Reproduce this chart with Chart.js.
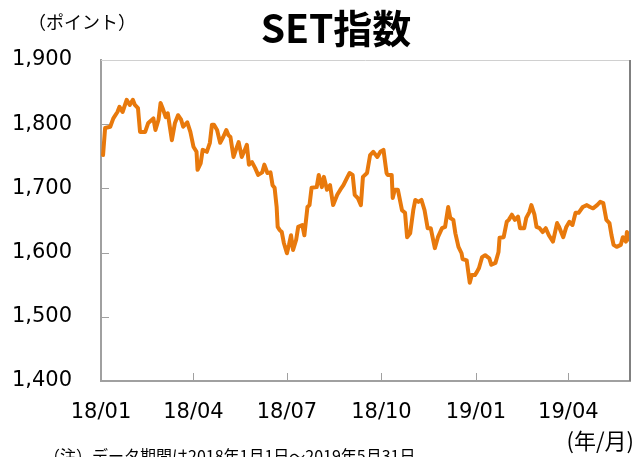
<!DOCTYPE html>
<html>
<head>
<meta charset="utf-8">
<script src="https://cdn.jsdelivr.net/npm/chart.js@4/dist/chart.umd.min.js"></script>
<style>
  html, body { margin: 0; padding: 0; background: #fff; }
  #wrap { width: 639px; height: 457px; position: relative; }
</style>
</head>
<body>
<div id="wrap"><canvas id="setChart" width="639" height="457"></canvas></div>
<script>
// SET指数（日足）、画像から読み取った概算値
const dates = [
  '2018-01-03','2018-01-05','2018-01-10','2018-01-13','2018-01-17','2018-01-19','2018-01-22','2018-01-26','2018-01-29',
  '2018-02-01','2018-02-03','2018-02-06','2018-02-08','2018-02-13','2018-02-16','2018-02-21','2018-02-23','2018-02-26','2018-02-28',
  '2018-03-02','2018-03-05','2018-03-07','2018-03-11','2018-03-14','2018-03-17','2018-03-20','2018-03-22','2018-03-26','2018-03-29',
  '2018-04-01','2018-04-04','2018-04-05','2018-04-08','2018-04-10','2018-04-14','2018-04-17','2018-04-19','2018-04-21','2018-04-24','2018-04-27','2018-04-30',
  '2018-05-03','2018-05-05','2018-05-07','2018-05-10','2018-05-13','2018-05-15','2018-05-18','2018-05-21','2018-05-23','2018-05-25','2018-05-28','2018-05-31',
  '2018-06-03','2018-06-07','2018-06-09','2018-06-12','2018-06-15','2018-06-17','2018-06-19','2018-06-21','2018-06-22','2018-06-24','2018-06-26','2018-06-28',
  '2018-07-01','2018-07-03','2018-07-05','2018-07-07','2018-07-10','2018-07-12','2018-07-16','2018-07-18','2018-07-21','2018-07-23','2018-07-25','2018-07-30',
  '2018-08-01','2018-08-04','2018-08-06','2018-08-09','2018-08-12','2018-08-15','2018-08-19','2018-08-22','2018-08-25','2018-08-29','2018-08-31',
  '2018-09-03','2018-09-05','2018-09-08','2018-09-11','2018-09-13','2018-09-17','2018-09-20','2018-09-23','2018-09-27','2018-09-30',
  '2018-10-03','2018-10-06','2018-10-07','2018-10-11','2018-10-12','2018-10-14','2018-10-17','2018-10-21','2018-10-24','2018-10-26','2018-10-29',
  '2018-11-01','2018-11-03','2018-11-06','2018-11-09','2018-11-12','2018-11-15','2018-11-18','2018-11-22','2018-11-25','2018-11-29',
  '2018-12-02','2018-12-05','2018-12-07','2018-12-10','2018-12-12','2018-12-15','2018-12-18','2018-12-19','2018-12-23','2018-12-26','2018-12-28','2018-12-31',
  '2019-01-02','2019-01-04','2019-01-07','2019-01-10','2019-01-14','2019-01-16','2019-01-20','2019-01-23','2019-01-24','2019-01-28','2019-01-31',
  '2019-02-02','2019-02-05','2019-02-08','2019-02-11','2019-02-13','2019-02-17','2019-02-19','2019-02-22','2019-02-24','2019-02-27',
  '2019-03-01','2019-03-04','2019-03-07','2019-03-10','2019-03-13','2019-03-17','2019-03-21','2019-03-23','2019-03-27','2019-03-30',
  '2019-04-02','2019-04-05','2019-04-08','2019-04-11','2019-04-15','2019-04-19','2019-04-22','2019-04-25','2019-04-29',
  '2019-05-02','2019-05-05','2019-05-08','2019-05-11','2019-05-13','2019-05-15','2019-05-18','2019-05-22','2019-05-24','2019-05-27','2019-05-28','2019-05-31'
];
const setValues = [
  1752,1794,1796,1809,1819,1827,1819,1838,1830,
  1838,1830,1825,1788,1788,1802,1809,1791,1807,1833,
  1825,1811,1817,1775,1802,1814,1807,1796,1803,1788,
  1765,1757,1729,1739,1760,1757,1771,1799,1799,1791,1771,1780,
  1791,1783,1780,1749,1763,1772,1749,1760,1768,1737,1741,1732,
  1721,1725,1737,1724,1725,1705,1701,1671,1640,1635,1632,1615,
  1599,1612,1627,1604,1620,1640,1643,1627,1671,1674,1701,1702,
  1721,1702,1718,1698,1705,1674,1690,1698,1705,1718,1724,
  1721,1690,1685,1674,1718,1724,1752,1757,1749,1757,
  1760,1724,1721,1721,1685,1698,1698,1666,1662,1624,1630,
  1666,1682,1679,1682,1666,1638,1638,1607,1624,1638,
  1640,1671,1654,1651,1630,1609,1599,1590,1588,1553,1565,1565,
  1570,1576,1593,1596,1591,1581,1584,1601,1623,1624,1648,
  1651,1659,1651,1656,1638,1638,1654,1663,1674,1659,
  1640,1638,1632,1638,1627,1617,1646,1640,1624,1640,
  1648,1643,1662,1662,1671,1674,1671,1669,1674,
  1679,1677,1651,1646,1627,1612,1609,1612,1624,1617,1632,1619
];

// 横軸の目盛り
const tickDates = ['2018-01-01','2018-04-01','2018-07-01','2018-10-01','2019-01-01','2019-04-01'];
const tickLabels = ['18/01','18/04','18/07','18/10','19/01','19/04'];
const startDate = '2018-01-01';
const endDate = '2019-05-31';

const yMin = 1400, yMax = 1900, yStep = 100;

const titleText = 'SET指数';
const unitY = '（ポイント）';
const unitX = '(年/月)';
const noteText = '（注）データ期間は2018年1月1日～2019年5月31日。';

// 日付 → 起点からの日数
function dayOffset(d) {
  const [y, m, dd] = d.split('-').map(Number);
  const [y0, m0, d0] = startDate.split('-').map(Number);
  return (Date.UTC(y, m - 1, dd) - Date.UTC(y0, m0 - 1, d0)) / 86400000;
}

const points = dates.map((d, i) => ({ x: dayOffset(d), y: setValues[i] }));
const tickValues = tickDates.map(dayOffset);

const labelFont = { family: 'DejaVu Sans', size: 21 };

// 枠線・内向きの目盛り・タイトルなど
const decorPlugin = {
  id: 'decor',
  afterDraw(chart) {
    const { ctx, chartArea: a, scales } = chart;
    ctx.save();
    // 上の線
    ctx.strokeStyle = '#D0D0D0';
    ctx.lineWidth = 1;
    ctx.beginPath();
    ctx.moveTo(a.left, a.top + 0.5);
    ctx.lineTo(a.right, a.top + 0.5);
    ctx.stroke();
    // 右の線
    ctx.strokeStyle = '#808080';
    ctx.lineWidth = 2;
    ctx.beginPath();
    ctx.moveTo(a.right, a.top);
    ctx.lineTo(a.right, a.bottom);
    ctx.stroke();
    // 内向きの目盛り
    ctx.strokeStyle = '#A0A0A0';
    ctx.lineWidth = 1;
    scales.y.ticks.forEach(t => {
      if (t.value <= yMin || t.value >= yMax) return;
      const y = Math.round(scales.y.getPixelForValue(t.value)) + 0.5;
      ctx.beginPath();
      ctx.moveTo(a.left, y);
      ctx.lineTo(a.left + 8, y);
      ctx.stroke();
    });
    tickValues.forEach(v => {
      const x = Math.round(scales.x.getPixelForValue(v)) + 0.5;
      ctx.beginPath();
      ctx.moveTo(x, a.bottom);
      ctx.lineTo(x, a.bottom - 8);
      ctx.stroke();
    });
    // タイトル
    ctx.fillStyle = '#000';
    ctx.textAlign = 'center';
    ctx.textBaseline = 'middle';
    ctx.font = 'bold 39px "Noto Sans CJK JP"';
    ctx.fillText(titleText, 336, 28);
    // 単位
    ctx.font = '18px "Noto Sans CJK JP"';
    ctx.textAlign = 'left';
    ctx.fillText(unitY, 28, 22);
    ctx.font = '22px "Noto Sans CJK JP"';
    ctx.textAlign = 'right';
    ctx.fillText(unitX, 634, 441);
    // 注記
    ctx.font = '16px "Noto Sans CJK JP"';
    ctx.textAlign = 'left';
    ctx.fillText(noteText, 44, 456);
    ctx.restore();
  }
};

new Chart(document.getElementById('setChart'), {
  type: 'line',
  data: {
    datasets: [{
      label: 'SET指数',
      data: points,
      borderColor: '#E8790C',
      borderWidth: 4,
      borderJoinStyle: 'round',
      borderCapStyle: 'round',
      pointRadius: 0,
      tension: 0,
      fill: false
    }]
  },
  options: {
    responsive: false,
    animation: false,
    layout: { padding: { left: 0, right: 9, top: 60, bottom: 0 } },
    plugins: {
      legend: { display: false },
      tooltip: { enabled: false }
    },
    scales: {
      x: {
        type: 'linear',
        min: 0,
        max: dayOffset(endDate),
        afterFit: s => { s.height = 76; },
        afterBuildTicks: s => { s.ticks = tickValues.map(v => ({ value: v })); },
        grid: { display: false, drawTicks: false },
        border: { display: true, color: '#A0A0A0', width: 2 },
        ticks: {
          autoSkip: false,
          maxRotation: 0,
          padding: 19,
          color: '#000',
          font: labelFont,
          callback: v => tickLabels[tickValues.indexOf(v)]
        }
      },
      y: {
        min: yMin,
        max: yMax,
        afterFit: s => { s.width = 101; },
        grid: { display: false, drawTicks: false },
        border: { display: true, color: '#A0A0A0', width: 2 },
        ticks: {
          stepSize: yStep,
          padding: 29,
          color: '#000',
          font: labelFont,
          callback: v => v.toLocaleString('en-US')
        }
      }
    }
  },
  plugins: [decorPlugin]
});
</script>
</body>
</html>
